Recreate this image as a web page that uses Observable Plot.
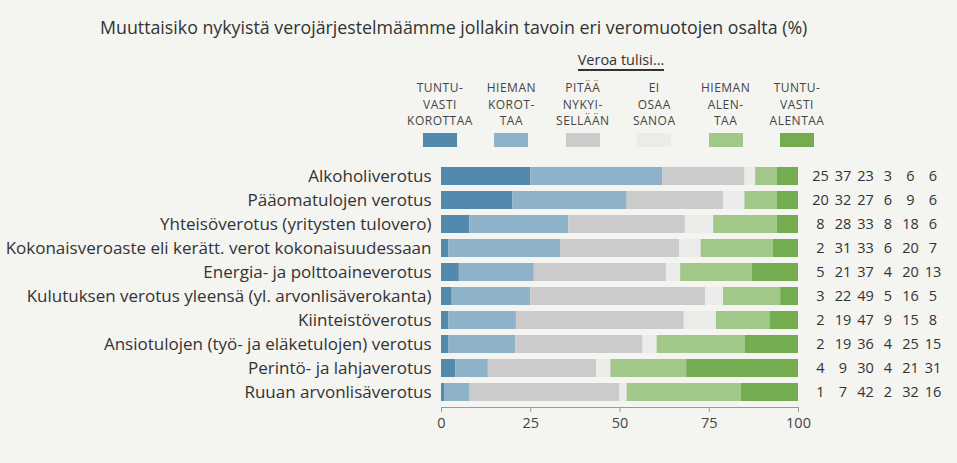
<!DOCTYPE html>
<html><head><meta charset="utf-8">
<script src="https://cdn.jsdelivr.net/npm/d3@7"></script>
<script src="https://cdn.jsdelivr.net/npm/@observablehq/plot@0.6"></script>
<style>
html,body{margin:0;padding:0;}
body{background:#f4f4f1;font-family:"Open Sans",sans-serif;color:#333;width:957px;height:463px;overflow:hidden;position:relative;}
#title{position:absolute;left:100px;top:15px;font-size:17.8px;white-space:nowrap;color:#333;}
#legtitle{position:absolute;left:561px;width:120px;top:51px;text-align:center;font-size:14.5px;line-height:18px;color:#333;}
#legtitle span{border-bottom:2px solid #333;}
.leg{position:absolute;width:70px;top:80px;text-align:center;font-size:12px;line-height:16.5px;letter-spacing:0.5px;color:#444;white-space:nowrap;}
.sw{position:absolute;top:133px;width:34px;height:14px;}
#chart{position:absolute;left:0;top:150px;line-height:0;}
#chart svg{display:block;}
</style></head><body>
<div id="title">Muuttaisiko nykyistä verojärjestelmäämme jollakin tavoin eri veromuotojen osalta (%)</div>
<div id="legtitle"><span>Veroa tulisi...</span></div>
<div id="legend"></div>
<div id="chart"></div>
<script>
const categories = [
  "Alkoholiverotus",
  "Pääomatulojen verotus",
  "Yhteisöverotus (yritysten tulovero)",
  "Kokonaisveroaste eli kerätt. verot kokonaisuudessaan",
  "Energia- ja polttoaineverotus",
  "Kulutuksen verotus yleensä (yl. arvonlisäverokanta)",
  "Kiinteistöverotus",
  "Ansiotulojen (työ- ja eläketulojen) verotus",
  "Perintö- ja lahjaverotus",
  "Ruuan arvonlisäverotus"
];
const responses = ["Tuntuvasti korottaa","Hieman korottaa","Pitää nykyisellään","Ei osaa sanoa","Hieman alentaa","Tuntuvasti alentaa"];
const legendLines = [
  ["TUNTU-","VASTI","KOROTTAA"],
  ["HIEMAN","KOROT-","TAA"],
  ["PITÄÄ","NYKYI-","SELLÄÄN"],
  ["EI","OSAA","SANOA"],
  ["HIEMAN","ALEN-","TAA"],
  ["TUNTU-","VASTI","ALENTAA"]
];
const colors = ["#5289ad","#8eb3c8","#cbcbcb","#ebebe9","#a1c789","#73ac51"];

const tuntuvastiKorottaa = [25,20,8,2,5,3,2,2,4,1];
const hiemanKorottaa     = [37,32,28,31,21,22,19,19,9,7];
const pitaaNykyisellaan  = [23,27,33,33,37,49,47,36,30,42];
const eiOsaaSanoa        = [3,6,8,6,4,5,9,4,4,2];
const hiemanAlentaa      = [6,9,18,20,20,16,15,25,21,32];
const tuntuvastiAlentaa  = [6,6,6,7,13,5,8,15,31,16];
const series = [tuntuvastiKorottaa,hiemanKorottaa,pitaaNykyisellaan,eiOsaaSanoa,hiemanAlentaa,tuntuvastiAlentaa];
const xTicks = [0,25,50,75,100];

// legend
const legend = document.getElementById("legend");
const legCenters0 = 440, legStep = 71.4;
legendLines.forEach((lines,j)=>{
  const cx = legCenters0 + legStep*j;
  const d = document.createElement("div");
  d.className = "leg";
  d.style.left = (cx-35)+"px";
  d.innerHTML = lines.join("<br>");
  legend.appendChild(d);
  const s = document.createElement("div");
  s.className = "sw";
  s.style.left = (cx-17)+"px";
  s.style.background = colors[j];
  legend.appendChild(s);
});

// rows (bars fill the full 0–100 width, as in the reference)
const rows = [];
categories.forEach((c,i)=>{
  const total = d3.sum(series, s=>s[i]);
  responses.forEach((r,j)=>rows.push({category:c, response:r, value:series[j][i]*100/total}));
});

const numberMarks = series.map((s,j)=>Plot.text(categories,{
  y: d=>d, text: (d,i)=>String(s[i]), frameAnchor:"right", dx: 22 + 22.5*j,
  textAnchor:"middle", fontSize:14.5, fill:"#333"
}));

const chart = Plot.plot({
  width:957, height:313,
  marginTop:10, marginBottom:56, marginLeft:441, marginRight:159,
  style:{background:"transparent", fontFamily:"'Open Sans', sans-serif", color:"#333", overflow:"visible"},
  x:{domain:[0,100]},
  y:{domain:categories, paddingInner:0.25, paddingOuter:0.1},
  color:{domain:responses, range:colors},
  marks:[
    Plot.barX(rows, Plot.stackX({x:"value", y:"category", fill:"response", order:responses})),
    Plot.frame({anchor:"bottom", stroke:"#9a9a9a"}),
    Plot.axisX({ticks:xTicks, tickSize:5, tickPadding:5, fontSize:14.5, stroke:"#9a9a9a", fill:"#444", label:null}),
    Plot.axisY({tickSize:0, tickPadding:10, fontSize:17, fill:"#333", label:null}),
    ...numberMarks
  ]
});
document.getElementById("chart").appendChild(chart);
</script>
</body></html>
